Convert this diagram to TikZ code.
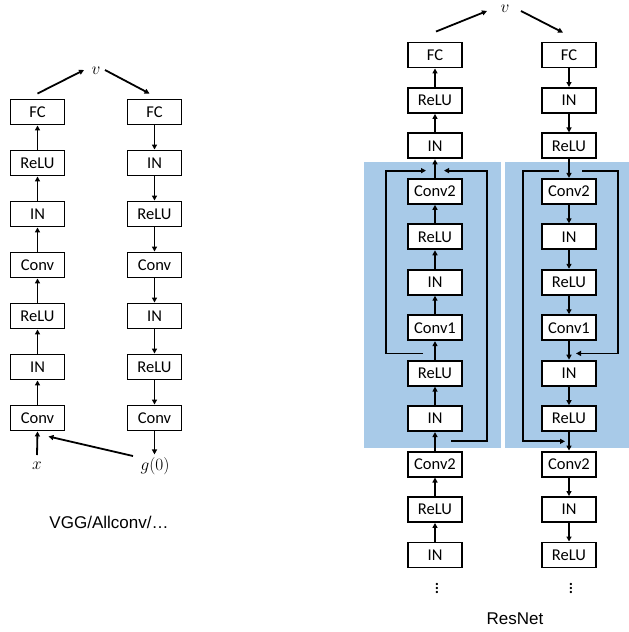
\documentclass[tikz,border=0pt]{standalone}
\usepackage{fontspec}
\setmainfont{Carlito}
\newfontfamily\captionfont{Liberation Sans}
\usetikzlibrary{arrows.meta,calc}
\definecolor{panelblue}{RGB}{168,202,232}
\begin{document}
\begin{tikzpicture}[x=1pt,y=-1pt,
  blk/.style={draw, line width=1.9pt, fill=white, minimum width=54pt,
    minimum height=25pt, inner sep=0pt, font=\fontsize{16.5}{18}\selectfont},
  arr/.style={line width=1.8pt, -{Triangle[length=5pt,width=5pt]}},
  mathlbl/.style={font=\fontsize{19}{21}\selectfont, inner sep=2pt},
  caption/.style={font=\captionfont\fontsize{17}{20}\selectfont}]
\useasboundingbox (0,0) rectangle (629,632);

% ---------- plain stacked network ----------
\foreach \t [count=\i] in {FC,ReLU,IN,Conv,ReLU,IN,Conv}
  \node[blk] (vl\i) at (37.5,{112+51*(\i-1)}) {\t};
\foreach \t [count=\i] in {FC,IN,ReLU,Conv,IN,ReLU,Conv}
  \node[blk] (vr\i) at (154.5,{112+51*(\i-1)}) {\t};
\foreach \i in {1,...,6}{
  \pgfmathtruncatemacro\j{\i+1}
  \draw[arr] (vl\j) -- (vl\i);
  \draw[arr] (vr\i) -- (vr\j);
}
\node[mathlbl] (vx) at (37,466) {$x$};
\node[mathlbl] (vg) at (155,466) {$g(0)$};
\node[mathlbl] (vv) at (96,71) {$v$};
\coordinate (xstart) at ($(vx.center)+(0,-11)$);
\coordinate (gtip) at ($(vr7.south)+(0,23)$);
\draw[arr] (xstart) -- (vl7.south);
\draw[arr] (vr7.south) -- (gtip);
\coordinate (gstart) at ($(vg.center)+(-22,-10)$);
\coordinate (gend) at ($(vl7.south)+(11,5)$);
\draw[arr] (gstart) -- (gend);
\coordinate (vlstart) at ($(vl1.north)+(0,-5)$);
\coordinate (vrend) at ($(vr1.north)+(-5,-5)$);
\draw[arr] (vlstart) -- ($(vv.center)+(-12,-1)$);
\draw[arr] ($(vv.center)+(9,-1)$) -- (vrend);
\node[caption] (vcap) at (109,522) {VGG/Allconv/\dots};

% ---------- residual network ----------
\fill[panelblue] (364,162) rectangle (501,448);
\fill[panelblue] (505,162) rectangle (629,448);

\foreach \t [count=\i] in {FC,ReLU,IN,Conv2,ReLU,IN,Conv1,ReLU,IN,Conv2,ReLU,IN}
  \node[blk] (rl\i) at (435,{55+45.45*(\i-1)}) {\t};
\foreach \t [count=\i] in {FC,IN,ReLU,Conv2,IN,ReLU,Conv1,IN,ReLU,Conv2,IN,ReLU}
  \node[blk] (rr\i) at (569,{55+45.45*(\i-1)}) {\t};
\foreach \i in {1,...,11}{
  \pgfmathtruncatemacro\j{\i+1}
  \draw[arr] (rl\j) -- (rl\i);
  \draw[arr] (rr\i) -- (rr\j);
}

% junctions on the main paths
\coordinate (lt) at ($(rl3.south)!.5!(rl4.north)+(0,2)$);
\coordinate (lm) at ($(rl7.south)!.5!(rl8.north)+(0,3)$);
\coordinate (lb) at ($(rl9.south)!.5!(rl10.north)$);
\coordinate (rt) at ($(rr3.south)!.5!(rr4.north)+(0,2)$);
\coordinate (rm) at ($(rr7.south)!.5!(rr8.north)+(0,3)$);
\coordinate (rb) at ($(rr9.south)!.5!(rr10.north)$);

% skip connections
\draw[arr] ($(lm)+(-12,0)$) -- ++(-37,0) |- ($(lt)+(-9,0)$);
\draw[arr] ($(lb)+(16,0)$) -- ++(36,0) |- ($(lt)+(9,0)$);
\draw[arr] ($(rt)+(-10,0)$) -- ++(-36,0) |- ($(rb)+(-4,0)$);
\draw[arr] ($(rt)+(13,0)$) -- ++(36,0) |- ($(rm)+(7,0)$);

\node[mathlbl] (rv) at (505,9) {$v$};
\coordinate (rlstart) at ($(rl1.north)+(1,-10)$);
\coordinate (rrend) at ($(rr1.north)+(-6,-9)$);
\draw[arr] (rlstart) -- ($(rv.center)+(-18,2)$);
\draw[arr] ($(rv.center)+(16,2)$) -- (rrend);

\node[mathlbl] (ldots) at (437,585) {$\vdots$};
\node[mathlbl] (rdots) at (571,585) {$\vdots$};
\node[caption] (rcap) at (515,619) {ResNet};
\end{tikzpicture}
\end{document}
